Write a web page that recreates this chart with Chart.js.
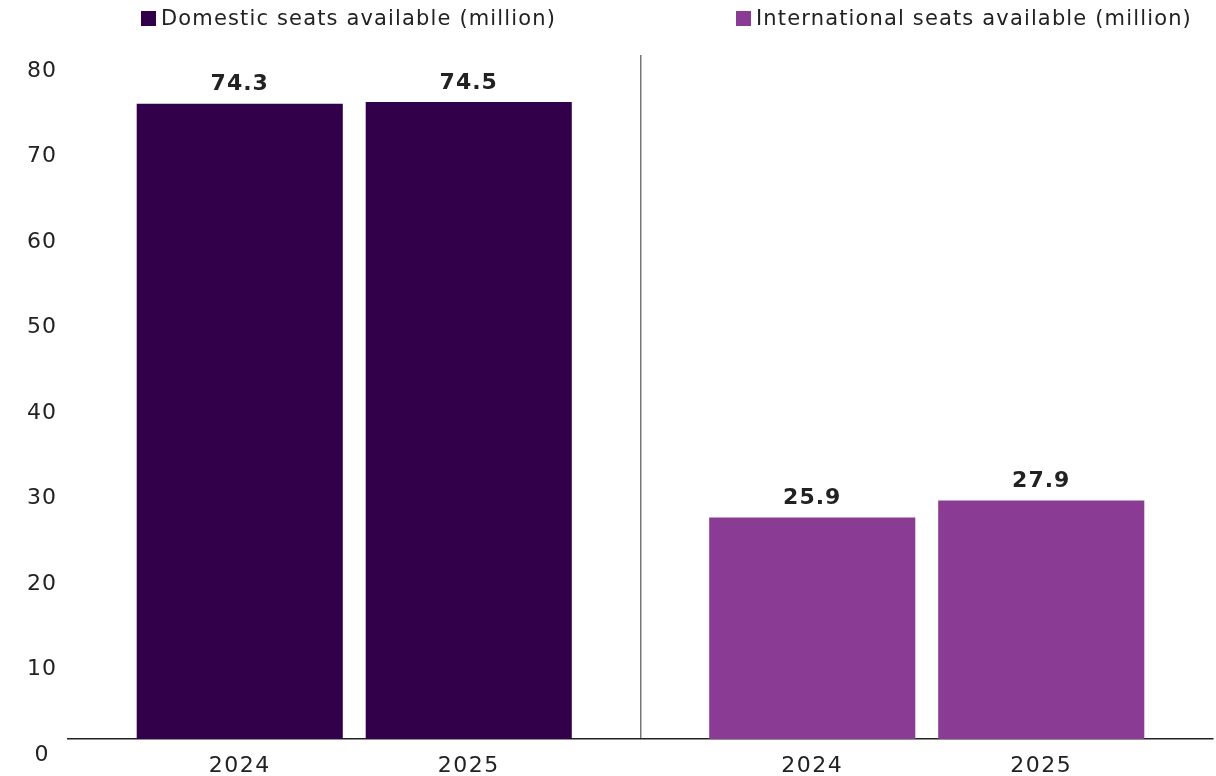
<!DOCTYPE html>
<html>
<head>
<meta charset="utf-8">
<script src="https://cdn.jsdelivr.net/npm/chart.js@4"></script>
<style>
    body { margin: 0; background: #fff; font-family: "DejaVu Sans", sans-serif; }
    #wrap { position: relative; width: 1216px; height: 776px; }
    #legend { position: absolute; top: 6px; left: 0; width: 1216px; height: 30px; font-size: 21px; letter-spacing: 1.15px; color: #222; }
    .item { position: absolute; display: flex; align-items: center; white-space: nowrap; }
    .swatch { width: 15px; height: 15px; margin-right: 5px; }
</style>
</head>
<body>
<div id="wrap">
    <div id="legend"></div>
    <canvas id="seatsChart" width="1216" height="776"></canvas>
</div>
<script>
const groups = ['Domestic', 'International'];
const groupLabels = ['Domestic seats available (million)', 'International seats available (million)'];
const groupColors = ['#32004b', '#8a3b94'];
const years = ['2024', '2025'];
const seats2024 = [74.3, 25.9];
const seats2025 = [74.5, 27.9];
const yTicks = [0, 10, 20, 30, 40, 50, 60, 70, 80];

const FONT = '"DejaVu Sans", sans-serif';

// legend built by hand so the two entries can sit over their own halves
const legendLeft = [141, 736];
const legendEl = document.getElementById('legend');
groupLabels.forEach((text, i) => {
    const item = document.createElement('div');
    item.className = 'item';
    item.style.left = legendLeft[i] + 'px';
    item.innerHTML = `<span class="swatch" style="background:${groupColors[i]}"></span>${text}`;
    legendEl.appendChild(item);
});

// the lettering is set a little wide everywhere on the canvas
const wideText = {
    id: 'wideText',
    beforeInit(chart) { chart.ctx.letterSpacing = '1px'; },
    beforeDraw(chart) { chart.ctx.letterSpacing = '1px'; }
};

// value above each bar, year below the axis
const barLabels = {
    id: 'barLabels',
    afterDatasetsDraw(chart) {
        const ctx = chart.ctx;
        const xAxis = chart.scales.x;
        ctx.save();
        ctx.fillStyle = '#222';
        ctx.textAlign = 'center';
        chart.data.datasets.forEach((ds, di) => {
            chart.getDatasetMeta(di).data.forEach((bar, i) => {
                ctx.letterSpacing = '1px';
                ctx.font = 'bold 22px ' + FONT;
                ctx.textBaseline = 'bottom';
                ctx.fillText(ds.data[i].toFixed(1), bar.x, bar.y - 8);
                ctx.letterSpacing = '1.5px';
                ctx.font = '22px ' + FONT;
                ctx.textBaseline = 'middle';
                ctx.fillText(ds.label, bar.x, xAxis.top + 27);
            });
        });
        ctx.restore();
    }
};

new Chart(document.getElementById('seatsChart'), {
    type: 'bar',
    data: {
        labels: groups,
        datasets: [
            { label: years[0], data: seats2024, backgroundColor: groupColors },
            { label: years[1], data: seats2025, backgroundColor: groupColors }
        ]
    },
    options: {
        responsive: false,
        animation: false,
        categoryPercentage: 0.8,
        barPercentage: 0.9,
        layout: { padding: { top: 55, bottom: 37, right: 3 } },
        plugins: {
            legend: { display: false },
            tooltip: { enabled: false }
        },
        scales: {
            x: {
                grid: {
                    offset: true,
                    drawTicks: false,
                    color: c => c.index === 1 ? '#777' : 'rgba(0,0,0,0)',
                    lineWidth: 1.5
                },
                border: { display: true, color: '#222', width: 1.5 },
                ticks: { display: false }
            },
            y: {
                min: 0,
                max: 80,
                afterBuildTicks: scale => { scale.ticks = yTicks.map(v => ({ value: v })); },
                afterFit: scale => { scale.width = 68; },
                grid: { display: false, drawTicks: false },
                border: { display: false },
                ticks: {
                    crossAlign: 'center',
                    padding: 12,
                    labelOffset: 16,
                    color: '#222',
                    font: { family: FONT, size: 22 }
                }
            }
        }
    },
    plugins: [wideText, barLabels]
});
</script>
</body>
</html>
